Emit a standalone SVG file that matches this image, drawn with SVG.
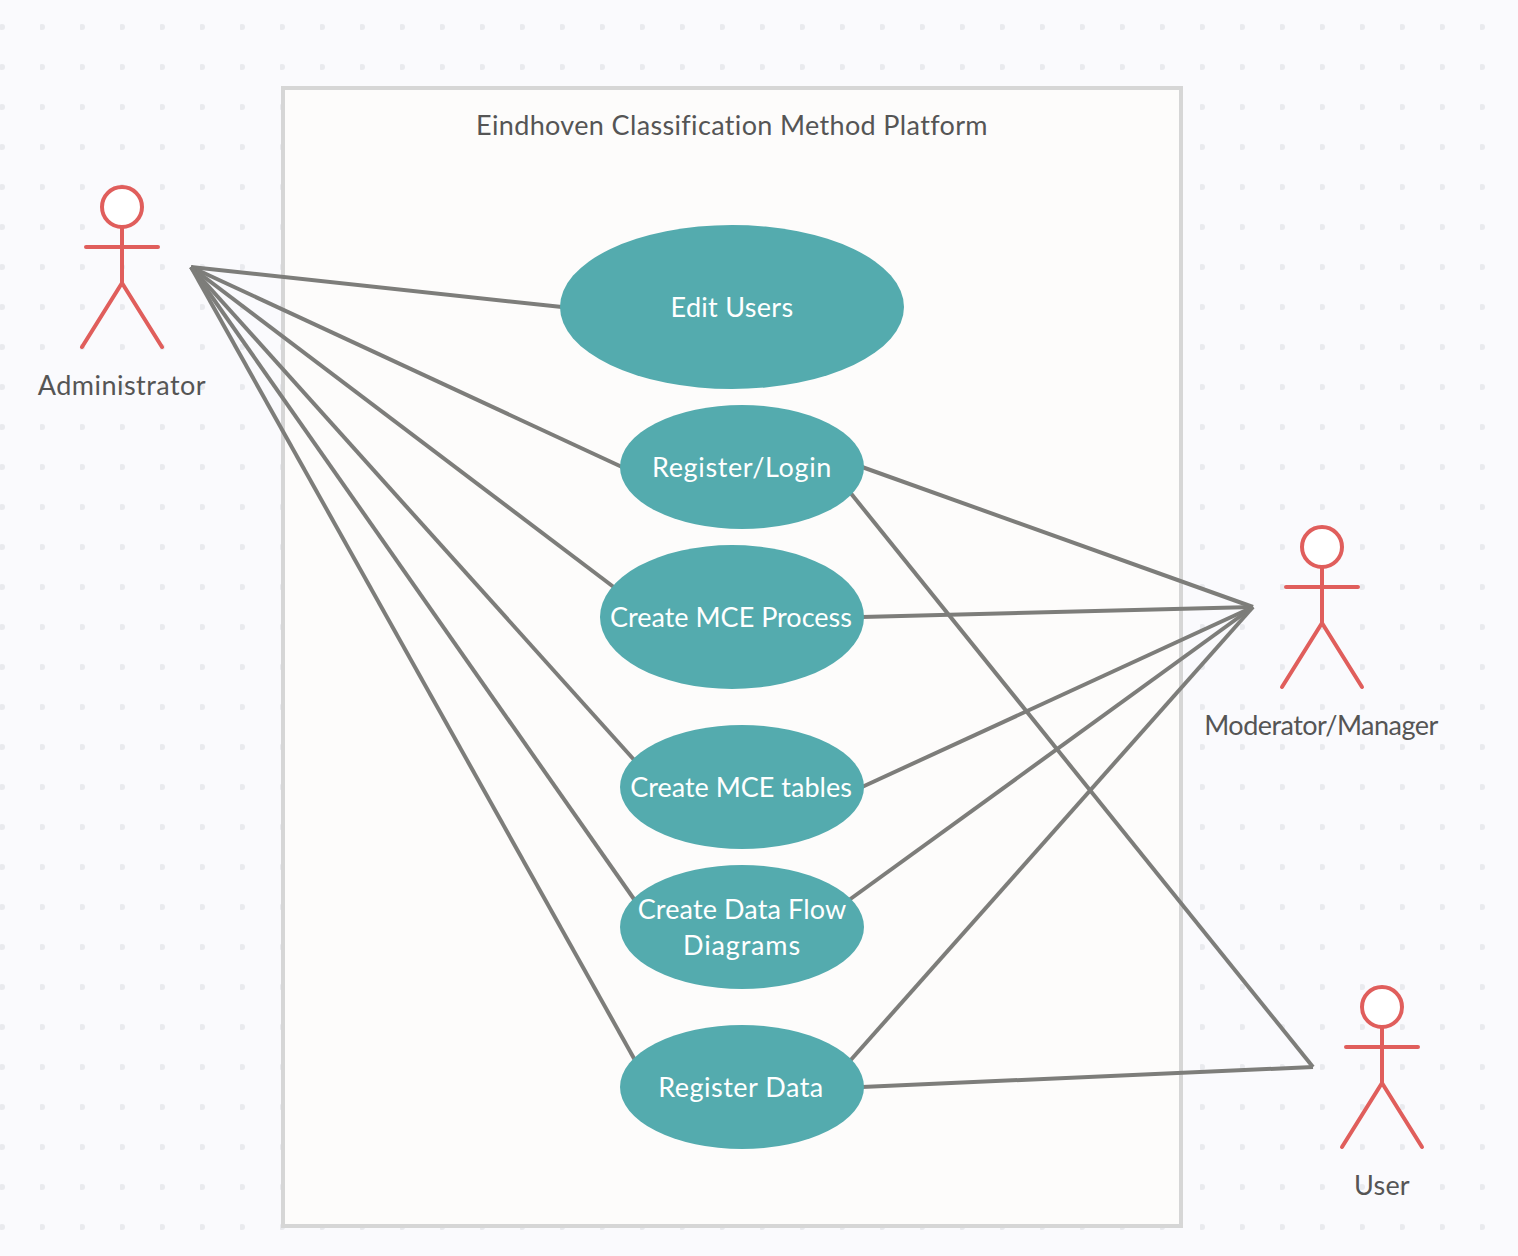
<svg xmlns="http://www.w3.org/2000/svg" width="1518" height="1256" viewBox="0 0 1518 1256">
<defs>
<pattern id="dots" width="40" height="40" patternUnits="userSpaceOnUse"><circle cx="2" cy="27" r="3" fill="#e9eaee"/></pattern>
<g id="actor"><circle cx="0" cy="-60" r="20" class="a"/><path d="M0-40V16M-36-20H36M-40 80L0 16L40 80" class="a"/></g>
</defs>
<style>
.a{fill:#fff;stroke:#e05e5c;stroke-width:4;stroke-linecap:round;stroke-linejoin:round}
path.a{fill:none}
.uc{fill:#54abae}
.c line{stroke:#7d7d7a;stroke-width:4}
text{font-family:Lato,"Liberation Sans",sans-serif;font-size:27px;text-anchor:middle}
.w{fill:#fff}.d{fill:#555}
</style>
<rect width="1518" height="1256" fill="#fafafd"/>
<rect width="1518" height="1256" fill="url(#dots)"/>
<g id="system"><rect x="283" y="88" width="898" height="1138" fill="#fdfcfb" stroke="#d6d6d6" stroke-width="4"/><text x="732" y="135" class="d" letter-spacing=".35">Eindhoven Classification Method Platform</text></g>
<g id="connectors" class="c">
<line x1="191" y1="267" x2="562" y2="307"/>
<line x1="191" y1="267" x2="622" y2="467"/>
<line x1="191" y1="267" x2="615" y2="588"/>
<line x1="191" y1="267" x2="636" y2="762"/>
<line x1="191" y1="267" x2="636" y2="902"/>
<line x1="191" y1="267" x2="636" y2="1062"/>
<line x1="862" y1="467" x2="1253" y2="607"/>
<line x1="862" y1="617" x2="1253" y2="607"/>
<line x1="862" y1="787" x2="1253" y2="607"/>
<line x1="849" y1="900" x2="1253" y2="607"/>
<line x1="849" y1="1062" x2="1253" y2="607"/>
<line x1="849" y1="491" x2="1313" y2="1067"/>
<line x1="862" y1="1087" x2="1313" y2="1067"/>
</g>
<g id="edit-users"><ellipse cx="732" cy="307" rx="172" ry="82" class="uc"/><text x="732" y="317" class="w" letter-spacing=".3">Edit Users</text></g>
<g id="register-login"><ellipse cx="742" cy="467" rx="122" ry="62" class="uc"/><text x="742" y="477" class="w" letter-spacing=".64">Register/Login</text></g>
<g id="create-mce-process"><ellipse cx="732" cy="617" rx="132" ry="72" class="uc"/><text x="731" y="627" class="w">Create MCE Process</text></g>
<g id="create-mce-tables"><ellipse cx="742" cy="787" rx="122" ry="62" class="uc"/><text x="741" y="797" class="w">Create MCE tables</text></g>
<g id="create-dfd"><ellipse cx="742" cy="927" rx="122" ry="62" class="uc"/><text x="742" y="919" class="w" letter-spacing=".12">Create Data Flow</text><text x="742" y="955" class="w" letter-spacing=".85">Diagrams</text></g>
<g id="register-data"><ellipse cx="742" cy="1087" rx="122" ry="62" class="uc"/><text x="741" y="1097" class="w" letter-spacing=".5">Register Data</text></g>
<g id="administrator"><use href="#actor" x="122" y="267"/><text x="122" y="395" class="d" letter-spacing=".46">Administrator</text></g>
<g id="moderator"><use href="#actor" x="1322" y="607"/><text x="1321" y="735" class="d" letter-spacing="-.53">Moderator/Manager</text></g>
<g id="user"><use href="#actor" x="1382" y="1067"/><text x="1382" y="1195" class="d" letter-spacing=".2">User</text></g>
</svg>
